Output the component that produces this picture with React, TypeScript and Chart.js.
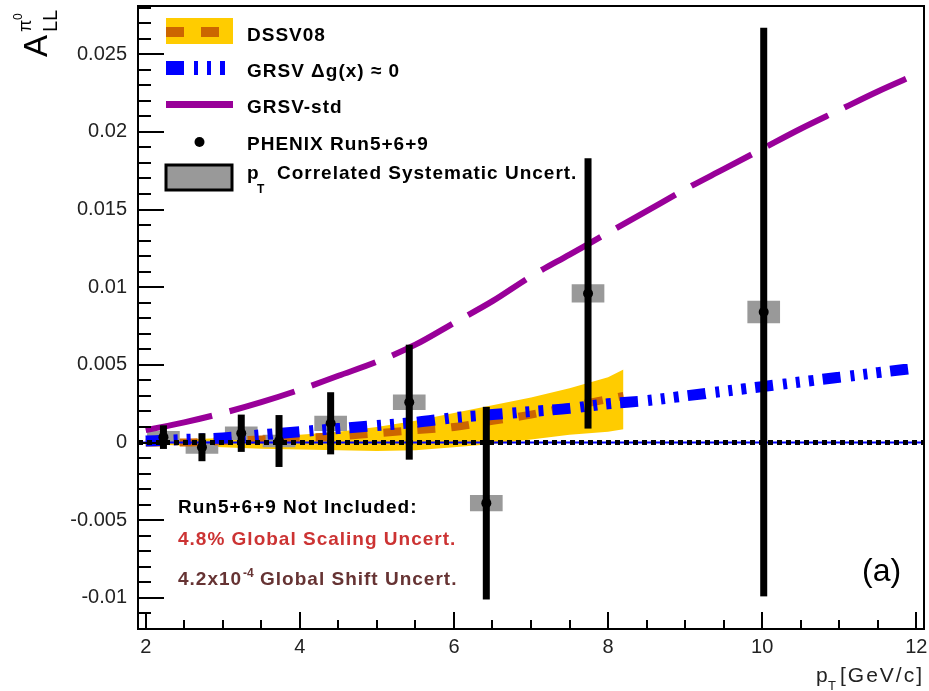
import React, { useEffect, useRef } from "react";
import { Chart, registerables } from "chart.js";

Chart.register(...registerables);

// ---------- axis ranges & ticks ----------
const X_MIN = 1.9;
const X_MAX = 12.1;
const Y_MIN = -0.012;
const Y_MAX = 0.0281;
const xTickValues = [2, 4, 6, 8, 10, 12];
const xTickLabels = ["2", "4", "6", "8", "10", "12"];
const yTickValues = [-0.01, -0.005, 0, 0.005, 0.01, 0.015, 0.02, 0.025];
const yTickLabels = ["-0.01", "-0.005", "0", "0.005", "0.01", "0.015", "0.02", "0.025"];

// ---------- theory curves ----------
const curvePt = [2, 2.5, 3, 3.5, 4, 4.5, 5, 5.5, 6, 6.5, 7, 7.5, 8, 8.5, 9, 9.5, 10, 10.5, 11, 11.5, 12];
const grsvStd = [0.0008, 0.0013, 0.0019, 0.0026, 0.0034, 0.0043, 0.0052, 0.0063, 0.0077, 0.0091, 0.0107, 0.0121, 0.0135, 0.0149, 0.0163, 0.0176, 0.0189, 0.0202, 0.0214, 0.0226, 0.0237];
const grsvZero = [0.0001, 0.0002, 0.0003, 0.0005, 0.0007, 0.0009, 0.0011, 0.0013, 0.0016, 0.0018, 0.002, 0.0022, 0.0025, 0.0027, 0.003, 0.0033, 0.0036, 0.0039, 0.0042, 0.0045, 0.0048];

const dssvPt = [2, 2.5, 3, 3.5, 4, 4.5, 5, 5.5, 6, 6.5, 7, 7.5, 8, 8.2];
const dssvCentral = [0.0, 0.0, 0.0001, 0.0002, 0.0003, 0.0004, 0.0006, 0.0008, 0.001, 0.0014, 0.0018, 0.0023, 0.0028, 0.003];
const dssvUpper = [0.0002, 0.0002, 0.0003, 0.0004, 0.0005, 0.0007, 0.001, 0.0014, 0.0019, 0.0024, 0.0029, 0.0035, 0.0042, 0.0047];
const dssvLower = [-0.0001, -0.0002, -0.0003, -0.0004, -0.00045, -0.0005, -0.00055, -0.0005, -0.0003, -0.0001, 0.0002, 0.0005, 0.0007, 0.00085];

// ---------- PHENIX data ----------
const phenixPt = [2.23, 2.73, 3.24, 3.73, 4.4, 5.42, 6.42, 7.74, 10.02];
const phenixAll = [0.00035, -0.0003, 0.0006, 0.0001, 0.00124, 0.0026, -0.0039, 0.0096, 0.0084];
const phenixStat = [0.00076, 0.0009, 0.0012, 0.00167, 0.002, 0.0037, 0.0062, 0.0087, 0.0183];
const phenixSys = [0.00037, 0.0004, 0.00042, 0.00038, 0.00047, 0.00048, 0.0005, 0.00057, 0.0007];

const FONT = '"Liberation Sans", Arial, Helvetica, sans-serif';

const xy = (xs: number[], ys: number[]) => xs.map((x, i) => ({ x, y: ys[i] }));

function text(ctx: CanvasRenderingContext2D, s: string, x: number, y: number, font: string, color: string, ls = 0) {
  ctx.font = font;
  ctx.fillStyle = color;
  (ctx as any).letterSpacing = ls + "px";
  ctx.textAlign = "left";
  ctx.textBaseline = "alphabetic";
  ctx.fillText(s, x, y);
  const w = ctx.measureText(s).width;
  (ctx as any).letterSpacing = "0px";
  return w;
}

const rootPlugin = {
  id: "rootStyle",
  beforeDatasetDraw(chart: any, args: any) {
    if (args.meta.label !== "PHENIX Run5+6+9") return;
    const { ctx, scales } = chart;
    const x = scales.x;
    const y = scales.y;
    ctx.save();
    ctx.fillStyle = "#000";
    phenixPt.forEach((p, i) => {
      const px = x.getPixelForValue(p);
      const top = y.getPixelForValue(phenixAll[i] + phenixStat[i]);
      const bot = y.getPixelForValue(phenixAll[i] - phenixStat[i]);
      ctx.fillRect(px - 3.5, top, 7, bot - top);
    });
    ctx.restore();
  },
  afterDraw(chart: any) {
    const { ctx, chartArea: a, scales } = chart;
    const x = scales.x;
    const y = scales.y;
    ctx.save();
    // frame
    ctx.strokeStyle = "#000";
    ctx.lineWidth = 2;
    ctx.strokeRect(a.left, a.top, a.right - a.left, a.bottom - a.top);
    // x ticks (inward)
    ctx.beginPath();
    for (let k = 4; k <= 24; k++) {
      const v = k * 0.5;
      const px = Math.round(x.getPixelForValue(v));
      const len = k % 4 === 0 ? 17 : 9;
      ctx.moveTo(px, a.bottom);
      ctx.lineTo(px, a.bottom - len);
    }
    // y ticks (inward)
    for (let k = -11; k <= 28; k++) {
      const v = k * 0.001;
      const py = Math.round(y.getPixelForValue(v));
      const len = k % 5 === 0 ? 26 : 13;
      ctx.moveTo(a.left, py);
      ctx.lineTo(a.left + len, py);
    }
    ctx.stroke();

    // ---------- legend ----------
    const bold = `bold 19px ${FONT}`;
    ctx.fillStyle = "#ffcc00";
    ctx.fillRect(166, 18, 67, 26);
    ctx.fillStyle = "#cc6600";
    ctx.fillRect(166, 27, 18, 10);
    ctx.fillRect(201, 27, 18, 10);

    ctx.strokeStyle = "#0000ff";
    ctx.lineWidth = 14;
    ctx.lineCap = "butt";
    ctx.setLineDash([18, 10, 4, 9, 4, 9, 5, 9]);
    ctx.beginPath();
    ctx.moveTo(166, 68);
    ctx.lineTo(233, 68);
    ctx.stroke();
    ctx.setLineDash([]);

    ctx.strokeStyle = "#990099";
    ctx.lineWidth = 7;
    ctx.beginPath();
    ctx.moveTo(166, 104.5);
    ctx.lineTo(233, 104.5);
    ctx.stroke();

    ctx.fillStyle = "#000";
    ctx.beginPath();
    ctx.arc(199.5, 142, 5, 0, Math.PI * 2);
    ctx.fill();

    ctx.fillStyle = "#999999";
    ctx.fillRect(166, 165, 66, 25);
    ctx.strokeStyle = "#000";
    ctx.lineWidth = 3;
    ctx.strokeRect(166, 165, 66, 25);

    text(ctx, "DSSV08", 247, 40.5, bold, "#000", 1);
    text(ctx, "GRSV \u0394g(x) \u2248 0", 247, 76.5, bold, "#000", 1);
    text(ctx, "GRSV-std", 247, 113, bold, "#000", 1);
    text(ctx, "PHENIX Run5+6+9", 247, 149.5, bold, "#000", 1);
    text(ctx, "p", 247, 179, bold, "#000", 1);
    text(ctx, "T", 257, 193, `bold 12px ${FONT}`, "#000", 0);
    text(ctx, "Correlated Systematic Uncert.", 277, 179, bold, "#000", 1);

    // ---------- annotations ----------
    text(ctx, "Run5+6+9 Not Included:", 178, 513, bold, "#000", 1);
    text(ctx, "4.8% Global Scaling Uncert.", 178, 545, bold, "#cc3333", 1);
    let cx = 178;
    cx += text(ctx, "4.2x10", cx, 585, bold, "#663333", 1);
    cx += text(ctx, "-4", cx + 1, 577, `bold 12px ${FONT}`, "#663333", 0) + 1;
    text(ctx, " Global Shift Uncert.", cx, 585, bold, "#663333", 1);

    text(ctx, "(a)", 862, 581, `32px ${FONT}`, "#000", 0);

    // ---------- x title ----------
    text(ctx, "p", 816, 682, `21px ${FONT}`, "#222", 0);
    text(ctx, "T", 828, 690, `13px ${FONT}`, "#222", 0);
    text(ctx, "[GeV/c]", 840, 682, `21px ${FONT}`, "#222", 2);

    // ---------- y title ----------
    ctx.translate(47, 57);
    ctx.rotate(-Math.PI / 2);
    text(ctx, "A", 0, 0, `33px ${FONT}`, "#000", 0);
    text(ctx, "\u03C0", 25, -16, `18px ${FONT}`, "#000", 0);
    text(ctx, "0", 37, -25, `12px ${FONT}`, "#000", 0);
    text(ctx, "LL", 25, 10, `20px ${FONT}`, "#000", 0);
    ctx.restore();
  },
};

export default function App() {
  const ref = useRef<HTMLCanvasElement>(null);
  useEffect(() => {
    const canvas = ref.current!;
    const chart = new Chart(canvas, {
      type: "line",
      data: {
        datasets: [
          {
            type: "scatter",
            label: "PHENIX Run5+6+9",
            data: xy(phenixPt, phenixAll),
            pointRadius: 5,
            pointBackgroundColor: "#000",
            pointBorderWidth: 0,
            order: 1,
          } as any,
          {
            type: "line",
            label: "zero",
            data: [{ x: X_MIN, y: 0 }, { x: X_MAX, y: 0 }],
            borderColor: "#000",
            borderWidth: 5,
            borderDash: [5, 4],
            borderCapStyle: "butt",
            pointRadius: 0,
            order: 3,
          },
          {
            type: "line",
            label: "zero-blue",
            data: [{ x: X_MIN, y: 0 }, { x: X_MAX, y: 0 }],
            borderColor: "#0000ff",
            borderWidth: 2,
            pointRadius: 0,
            order: 4,
          },
          {
            type: "line",
            label: "GRSV-std",
            data: xy(curvePt, grsvStd),
            borderColor: "#990099",
            borderWidth: 6,
            borderDash: [68, 18],
            borderCapStyle: "butt",
            pointRadius: 0,
            cubicInterpolationMode: "monotone",
            order: 6,
          },
          {
            type: "line",
            label: "GRSV dg=0",
            data: xy(curvePt, grsvZero),
            borderColor: "#0000ff",
            borderWidth: 11,
            borderDash: [18, 10, 4, 9, 4, 9, 5, 9],
            borderCapStyle: "butt",
            pointRadius: 0,
            cubicInterpolationMode: "monotone",
            order: 7,
          },
          {
            type: "line",
            label: "DSSV08",
            data: xy(dssvPt, dssvCentral),
            borderColor: "#cc6600",
            borderWidth: 8,
            borderDash: [18, 16],
            borderCapStyle: "butt",
            pointRadius: 0,
            cubicInterpolationMode: "monotone",
            order: 8,
          },
          {
            type: "bar",
            label: "sys",
            data: phenixPt.map((p, i) => ({ x: p, y: [phenixAll[i] - phenixSys[i], phenixAll[i] + phenixSys[i]] })),
            backgroundColor: "#999999",
            borderWidth: 0,
            barThickness: 32,
            order: 9,
          } as any,
          {
            type: "line",
            label: "DSSV upper",
            data: xy(dssvPt, dssvUpper),
            borderColor: "rgba(0,0,0,0)",
            borderWidth: 0,
            backgroundColor: "#ffcc00",
            fill: "+1",
            pointRadius: 0,
            order: 10,
          },
          {
            type: "line",
            label: "DSSV lower",
            data: xy(dssvPt, dssvLower),
            borderColor: "rgba(0,0,0,0)",
            borderWidth: 0,
            fill: false,
            pointRadius: 0,
            order: 11,
          },
        ],
      },
      options: {
        responsive: false,
        animation: false,
        devicePixelRatio: 1,
        layout: { padding: { top: 6, right: 2, left: 0, bottom: 0 } },
        plugins: { legend: { display: false }, tooltip: { enabled: false } },
        events: [],
        scales: {
          x: {
            type: "linear",
            min: X_MIN,
            max: X_MAX,
            offset: false,
            grid: { display: false, drawTicks: false },
            border: { display: false },
            afterBuildTicks: (s: any) => {
              s.ticks = xTickValues.map((v) => ({ value: v }));
            },
            afterFit: (s: any) => {
              s.height = 62;
              s.paddingLeft = 0;
              s.paddingRight = 0;
            },
            ticks: {
              callback: (v: any) => xTickLabels[xTickValues.indexOf(Number(v))],
              font: { family: FONT, size: 20 },
              color: "#222",
              padding: 6,
              maxRotation: 0,
              autoSkip: false,
            },
          },
          y: {
            type: "linear",
            min: Y_MIN,
            max: Y_MAX,
            grid: { display: false, drawTicks: false },
            border: { display: false },
            afterBuildTicks: (s: any) => {
              s.ticks = yTickValues.map((v) => ({ value: v }));
            },
            afterFit: (s: any) => {
              s.width = 138;
              s.paddingTop = 0;
              s.paddingBottom = 0;
            },
            ticks: {
              callback: (v: any) => {
                const i = yTickValues.findIndex((t) => Math.abs(t - Number(v)) < 1e-9);
                return i >= 0 ? yTickLabels[i] : "";
              },
              font: { family: FONT, size: 20 },
              color: "#222",
              padding: 11,
              autoSkip: false,
            },
          },
        },
      } as any,
      plugins: [rootPlugin],
    });
    return () => chart.destroy();
  }, []);
  return (
    <div style={{ position: "absolute", left: 0, top: 0, width: 929, height: 691, background: "#fff" }}>
      <canvas ref={ref} width={929} height={691} style={{ display: "block" }} />
    </div>
  );
}
